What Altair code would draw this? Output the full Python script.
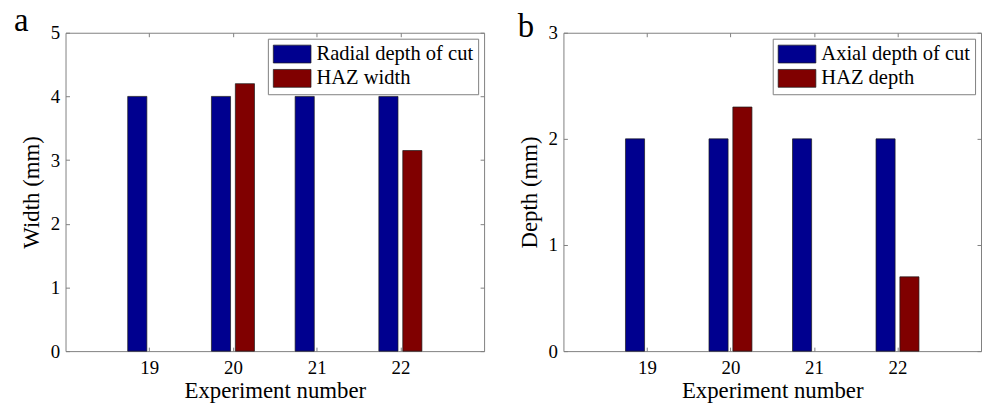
import altair as alt
import pandas as pd

# ---- data ----
experiments = [19, 20, 21, 22]
radial_depth = [4, 4, 4, 4]
haz_width = [0, 4.2, 0, 3.15]
axial_depth = [2, 2, 2, 2]
haz_depth = [0, 2.3, 0, 0.7]
series_a = ["Radial depth of cut", "HAZ width"]
series_b = ["Axial depth of cut", "HAZ depth"]
panel_labels = ["a", "b"]
x_ticks = [19, 20, 21, 22]
y_ticks_a = [0, 1, 2, 3, 4, 5]
y_ticks_b = [0, 1, 2, 3]
x_title = "Experiment number"
y_title_a = "Width (mm)"
y_title_b = "Depth (mm)"

# ---- style ----
FONT = "Liberation Serif"
BLUE = "#00008F"
RED = "#800000"
FRAME = "#7f7f7f"
EDGE = "#1a1a1a"
GROUP = 2 / 3.5           # MATLAB grouped-bar group width
GAP = GROUP / 2           # distance between bar centres
BW = GROUP / 2 * 0.8      # bar width
H = 321


def panel(first, second, names, ymax, yticks, ytitle, label, lx, ly, width):
    n = len(experiments)
    df = pd.DataFrame({
        "exp": experiments + experiments,
        "value": first + second,
        "series": [names[0]] * n + [names[1]] * n,
        "k": [0] * n + [1] * n,
    })
    xs = alt.Scale(domain=[18, 23], nice=False, zero=False)
    ys = alt.Scale(domain=[0, ymax], nice=False, zero=True)
    base = alt.Chart(df).transform_filter("datum.value > 0").transform_calculate(
        x0=f"datum.exp + (datum.k - 0.5) * {GAP} - {BW / 2}",
        x1=f"datum.exp + (datum.k - 0.5) * {GAP} + {BW / 2}",
    )
    tick_ax = dict(domain=False, grid=False, tickColor=FRAME, tickSize=4,
                   tickWidth=1, offset=-4)
    bars = base.mark_bar(stroke=EDGE, strokeWidth=0.7).encode(
        x=alt.X("x0:Q", scale=xs, axis=alt.Axis(
            orient="bottom", values=x_ticks, format="d",
            labelFontSize=19, labelColor="black", labelPadding=8,
            title=x_title, titleFontSize=23,
            titleFontWeight="normal", titleColor="black", titlePadding=2,
            **tick_ax)),
        x2="x1:Q",
        y=alt.Y("value:Q", scale=ys, axis=alt.Axis(
            orient="left", values=yticks, format="d",
            labelFontSize=19, labelColor="black", labelPadding=6,
            title=ytitle, titleFontSize=23,
            titleFontWeight="normal", titleColor="black", titlePadding=7,
            **tick_ax)),
        y2=alt.datum(0),
        color=alt.Color("series:N",
                        scale=alt.Scale(domain=names, range=[BLUE, RED]),
                        legend=alt.Legend(
                            title=None, orient="top-right", offset=6,
                            strokeColor=FRAME, fillColor="white", padding=5,
                            labelFontSize=20.7,
                            labelColor="black", labelLimit=400,
                            symbolType="M-1.9,-0.9H1.9V0.9H-1.9Z",
                            symbolSize=400, symbolOffset=9, labelOffset=14,
                            symbolStrokeColor=EDGE,
                            symbolStrokeWidth=0.7, symbolOpacity=1,
                            rowPadding=2.5)),
    )
    mirror = base.mark_bar(opacity=0).encode(
        x=alt.X("x0:Q", scale=xs, axis=alt.Axis(
            orient="top", values=x_ticks, labels=False, title=None, **tick_ax)),
        x2="x1:Q",
        y=alt.Y("value:Q", scale=ys, axis=alt.Axis(
            orient="right", values=yticks, labels=False, title=None, **tick_ax)),
        y2=alt.datum(0),
    )
    tag = alt.Chart(pd.DataFrame({"t": [label]})).mark_text(
        font=FONT, fontSize=33, align="left", baseline="alphabetic", color="black"
    ).encode(text="t:N", x=alt.value(lx), y=alt.value(ly))
    return alt.layer(bars, mirror, tag).resolve_scale(
        x="independent", y="independent"
    ).properties(width=width, height=H)


pa = panel(radial_depth, haz_width, series_a, 5, y_ticks_a, y_title_a,
           panel_labels[0], -52, -2, 422)
pb = panel(axial_depth, haz_depth, series_b, 3, y_ticks_b, y_title_b,
           panel_labels[1], -46, 4, 421)

chart = alt.hconcat(pa, pb, spacing=80, bounds="flush").resolve_scale(
    color="independent"
).configure(font=FONT).configure_axis(
    labelFont=FONT, titleFont=FONT
).configure_legend(labelFont=FONT).configure_text(font=FONT).configure_view(
    stroke=FRAME, strokeWidth=1
).properties(
    autosize=alt.AutoSizeParams(type="none"),
    padding={"left": 58, "top": 22, "right": 924, "bottom": 374},
    background="white",
)

chart.save("out.html", embed_options={"renderer": "svg", "actions": False})
